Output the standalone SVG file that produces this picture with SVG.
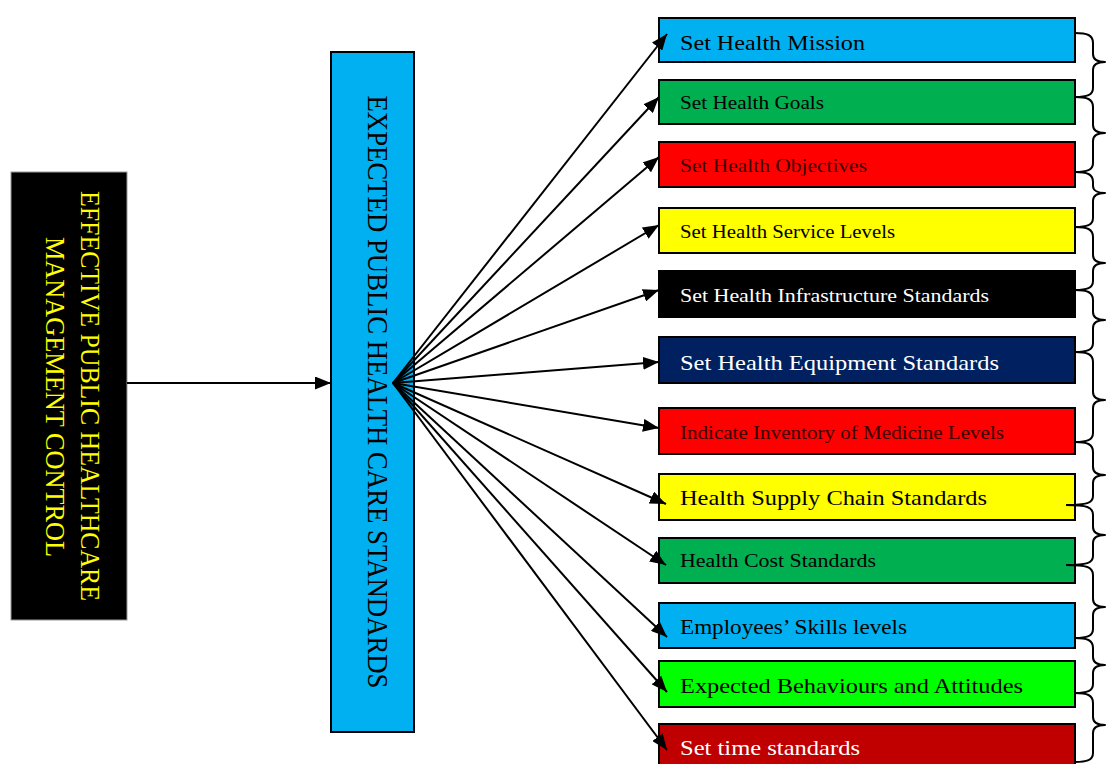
<svg xmlns="http://www.w3.org/2000/svg" width="1106" height="764" viewBox="0 0 1106 764">
  <style>
    .box { stroke: #000; stroke-width: 2; }
    .lbl { font-family: "Liberation Serif", "DejaVu Serif", serif; }
    .lg { font-size: 22px; }
    .sm { font-size: 19.5px; }
    .conn line { stroke: #000; stroke-width: 2; marker-end: url(#arrow); }
    .brace { fill: none; stroke: #000; stroke-width: 2; stroke-linejoin: round; }
  </style>
  <defs>
    <marker id="arrow" markerUnits="userSpaceOnUse" markerWidth="17" markerHeight="13" refX="16" refY="6.5" orient="auto">
      <path d="M0,0 L16,6.5 L0,13 z" fill="#000"/>
    </marker>
  </defs>
  <rect width="1106" height="764" fill="#fff"/>

  <!-- source box -->
  <g id="node-control">
    <rect x="11" y="172" width="116" height="448" fill="#000" stroke="#9a9a9a" stroke-width="1"/>
    <text class="lbl" font-size="28" fill="#ffff00" text-anchor="middle" transform="translate(81,396) rotate(90)" textLength="410" lengthAdjust="spacingAndGlyphs">EFFECTIVE PUBLIC HEALTHCARE</text>
    <text class="lbl" font-size="27" fill="#ffff00" text-anchor="middle" transform="translate(46,397) rotate(90)" textLength="320" lengthAdjust="spacingAndGlyphs">MANAGEMENT CONTROL</text>
  </g>

  <!-- central standards box -->
  <g id="node-standards">
    <rect class="box" x="331" y="52" width="83" height="680" fill="#00b0f0"/>
    <text class="lbl" font-size="29" fill="#000" text-anchor="middle" transform="translate(368,392) rotate(90)" textLength="593" lengthAdjust="spacingAndGlyphs">EXPECTED PUBLIC HEALTH CARE STANDARDS</text>
  </g>

  <!-- standard items -->
  <g id="node-mission">
    <rect class="box" x="659" y="18" width="416" height="44" fill="#00b0f0"/>
    <text class="lbl lg" x="680" y="50" fill="#000" textLength="185" lengthAdjust="spacingAndGlyphs">Set Health Mission</text>
  </g>
  <g id="node-goals">
    <rect class="box" x="659" y="80" width="416" height="44" fill="#00b050"/>
    <text class="lbl sm" x="680" y="109" fill="#000" textLength="144" lengthAdjust="spacingAndGlyphs">Set Health Goals</text>
  </g>
  <g id="node-objectives">
    <rect class="box" x="659" y="142" width="416" height="45" fill="#ff0000"/>
    <text class="lbl sm" x="680" y="172" fill="#3a0000" textLength="187" lengthAdjust="spacingAndGlyphs">Set Health Objectives</text>
  </g>
  <g id="node-service">
    <rect class="box" x="659" y="208" width="416" height="45" fill="#ffff00"/>
    <text class="lbl sm" x="680" y="238" fill="#000" textLength="215" lengthAdjust="spacingAndGlyphs">Set Health Service Levels</text>
  </g>
  <g id="node-infrastructure">
    <rect class="box" x="659" y="271" width="416" height="46" fill="#000"/>
    <text class="lbl sm" x="680" y="302" fill="#fff" textLength="309" lengthAdjust="spacingAndGlyphs">Set Health Infrastructure Standards</text>
  </g>
  <g id="node-equipment">
    <rect class="box" x="659" y="337" width="416" height="46" fill="#002060"/>
    <text class="lbl lg" x="680" y="370" fill="#fff" textLength="319" lengthAdjust="spacingAndGlyphs">Set Health Equipment Standards</text>
  </g>
  <g id="node-medicine">
    <rect class="box" x="659" y="408" width="416" height="46" fill="#ff0000"/>
    <text class="lbl sm" x="680" y="439" fill="#3a0000" textLength="324" lengthAdjust="spacingAndGlyphs">Indicate Inventory of Medicine Levels</text>
  </g>
  <g id="node-supply">
    <rect class="box" x="659" y="474" width="416" height="46" fill="#ffff00"/>
    <text class="lbl lg" x="680" y="505" fill="#000" textLength="307" lengthAdjust="spacingAndGlyphs">Health Supply Chain Standards</text>
  </g>
  <g id="node-cost">
    <rect class="box" x="659" y="538" width="416" height="45" fill="#00b050"/>
    <text class="lbl sm" x="680" y="567" fill="#000" textLength="196" lengthAdjust="spacingAndGlyphs">Health Cost Standards</text>
  </g>
  <g id="node-skills">
    <rect class="box" x="659" y="603" width="416" height="45" fill="#00b0f0"/>
    <text class="lbl lg" x="680" y="634" fill="#000" textLength="227" lengthAdjust="spacingAndGlyphs">Employees’ Skills levels</text>
  </g>
  <g id="node-behaviours">
    <rect class="box" x="659" y="661" width="416" height="46" fill="#00ff00"/>
    <text class="lbl lg" x="680" y="693" fill="#000" textLength="343" lengthAdjust="spacingAndGlyphs">Expected Behaviours and Attitudes</text>
  </g>
  <g id="node-time">
    <rect class="box" x="659" y="724" width="416" height="46" fill="#c00000"/>
    <text class="lbl lg" x="680" y="755" fill="#fff" textLength="180" lengthAdjust="spacingAndGlyphs">Set time standards</text>
  </g>

  <!-- connectors -->
  <g id="connectors" class="conn">
    <line x1="127" y1="383" x2="331" y2="383"/>
    <line x1="393" y1="383" x2="667" y2="34"/>
    <line x1="393" y1="383" x2="659" y2="97"/>
    <line x1="393" y1="383" x2="659" y2="157"/>
    <line x1="393" y1="383" x2="659" y2="225"/>
    <line x1="393" y1="383" x2="659" y2="290"/>
    <line x1="393" y1="383" x2="659" y2="362"/>
    <line x1="393" y1="383" x2="659" y2="428"/>
    <line x1="393" y1="383" x2="666" y2="504"/>
    <line x1="393" y1="383" x2="666" y2="565"/>
    <line x1="393" y1="383" x2="667" y2="637"/>
    <line x1="393" y1="383" x2="667" y2="692"/>
    <line x1="393" y1="383" x2="667" y2="750"/>
  </g>

  <!-- chained braces on the right -->
  <g id="braces" class="brace">
    <path d="M1075,33 C1087,33 1093,35 1093,43 L1093,54 C1093,60 1099,62 1105,62 C1099,62 1093,64 1093,70 L1093,88 C1093,95 1087,97 1075,97"/>
    <path d="M1075,97 C1087,97 1093,99 1093,107 L1093,125 C1093,131 1099,133 1105,133 C1099,133 1093,135 1093,141 L1093,163 C1093,170 1087,172 1075,172"/>
    <path d="M1075,172 C1087,172 1093,174 1093,182 L1093,186 C1093,191 1099,193 1105,193 C1099,193 1093,195 1093,201 L1093,218 C1093,225 1087,227 1075,227"/>
    <path d="M1075,227 C1087,227 1093,229 1093,237 L1093,255 C1093,261 1099,263 1105,263 C1099,263 1093,265 1093,271 L1093,281 C1093,288 1087,290 1075,290"/>
    <path d="M1075,290 C1087,290 1093,292 1093,300 L1093,312 C1093,318 1099,320 1105,320 C1099,320 1093,322 1093,328 L1093,343 C1093,350 1087,352 1075,352"/>
    <path d="M1075,352 C1087,352 1093,354 1093,362 L1093,392 C1093,398 1099,400 1105,400 C1099,400 1093,402 1093,408 L1093,433 C1093,440 1087,442 1075,442"/>
    <path d="M1075,442 C1087,442 1093,444 1093,452 L1093,467 C1093,473 1099,475 1105,475 C1099,475 1093,477 1093,483 L1093,496 C1093,503 1087,505 1066,505"/>
    <path d="M1066,505 C1087,505 1093,507 1093,515 L1093,527 C1093,533 1099,535 1105,535 C1099,535 1093,537 1093,543 L1093,556 C1093,563 1087,565 1066,565"/>
    <path d="M1066,565 C1087,565 1093,567 1093,575 L1093,599 C1093,605 1099,607 1105,607 C1099,607 1093,609 1093,615 L1093,629 C1093,636 1087,638 1075,638"/>
    <path d="M1075,638 C1087,638 1093,640 1093,648 L1093,657 C1093,663 1099,665 1105,665 C1099,665 1093,667 1093,673 L1093,684 C1093,691 1087,693 1075,693"/>
    <path d="M1075,693 C1087,693 1093,695 1093,703 L1093,717 C1093,723 1099,725 1105,725 C1099,725 1093,727 1093,733 L1093,753 C1093,760 1087,762 1075,762"/>
  </g>
</svg>
